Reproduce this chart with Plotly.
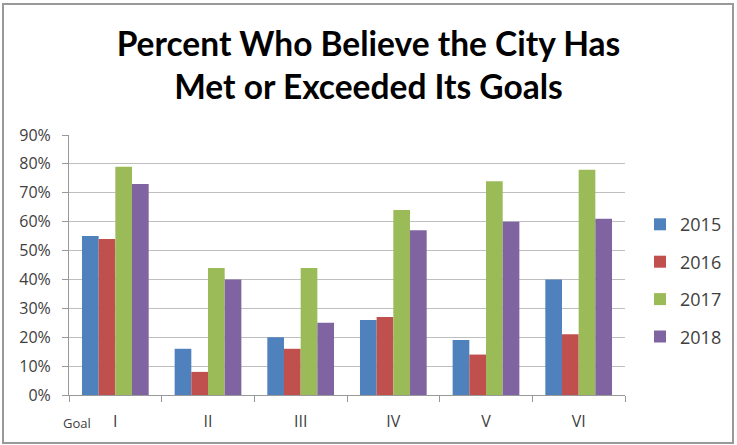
import plotly.graph_objects as go

goals = ["I", "II", "III", "IV", "V", "VI"]
years = ["2015", "2016", "2017", "2018"]
v2015 = [55, 16, 20, 26, 19, 40]
v2016 = [54, 8, 16, 27, 14, 21]
v2017 = [79, 44, 44, 64, 74, 78]
v2018 = [73, 40, 25, 57, 60, 61]
series = [v2015, v2016, v2017, v2018]
colors = ["#4F81BD", "#C0504D", "#9BBB59", "#8064A2"]
y_ticks = [0, 10, 20, 30, 40, 50, 60, 70, 80, 90]

fig = go.Figure()
for name, vals, col in zip(years, series, colors):
    fig.add_trace(go.Bar(
        x=goals, y=[v / 100 for v in vals], name=name,
        marker=dict(color=col, line=dict(width=0)),
        legendgroup=name,
    ))

PW, PH = 556, 260

fig.update_layout(
    width=737, height=445, autosize=False,
    margin=dict(l=69, r=112, t=135, b=50, autoexpand=False),
    paper_bgcolor="white", plot_bgcolor="white",
    barmode="group", bargap=0.28, bargroupgap=0,
    font=dict(family="Open Sans", size=16, color="#404040"),
    title=dict(
        text="Percent Who Believe the City Has<br>Met or Exceeded Its Goals",
        x=0.5, xanchor="center", y=0.875, yanchor="top",
        font=dict(family="Lato", size=33.5, color="#000000", weight="bold"),
    ),
    showlegend=True,
    legend=dict(
        x=1.027, xanchor="left", y=0.44, yanchor="middle",
        font=dict(family="Open Sans", size=18, color="#404040"),
        tracegroupgap=11, traceorder="grouped",
        itemwidth=30, bgcolor="rgba(0,0,0,0)",
    ),
    xaxis=dict(
        type="category", tickson="boundaries", ticks="outside", ticklen=6,
        tickcolor="#999999", showline=True, linecolor="#999999", linewidth=1,
        showgrid=False, tickfont=dict(size=16, color="#404040"),
        ticklabelstandoff=12,
    ),
    yaxis=dict(
        range=[0, 0.9], tickvals=[t / 100 for t in y_ticks],
        ticktext=[f"{t}%" for t in y_ticks],
        ticks="outside", ticklen=6, tickcolor="#999999",
        showline=True, linecolor="#999999", linewidth=1,
        showgrid=True, gridcolor="#BFBFBF", gridwidth=1,
        zeroline=False, tickfont=dict(size=16, color="#404040"),
        ticklabelstandoff=8,
    ),
    shapes=[dict(
        type="rect", xref="paper", yref="paper",
        x0=(3 - 69) / PW, x1=(733 - 69) / PW, y0=(395 - 443) / PH, y1=(395 - 4) / PH,
        line=dict(color="#999999", width=2),
    )],
    annotations=[dict(
        text="Goal", xref="paper", yref="paper", x=(77 - 69) / PW, y=-28 / PH,
        xanchor="center", yanchor="middle", showarrow=False,
        font=dict(family="Open Sans", size=13, color="#404040"),
    )],
)

fig.write_html(
    "out.html",
    config={"displayModeBar": False, "responsive": False},
    post_script="document.body.style.margin='0';document.body.style.overflow='hidden';",
)
